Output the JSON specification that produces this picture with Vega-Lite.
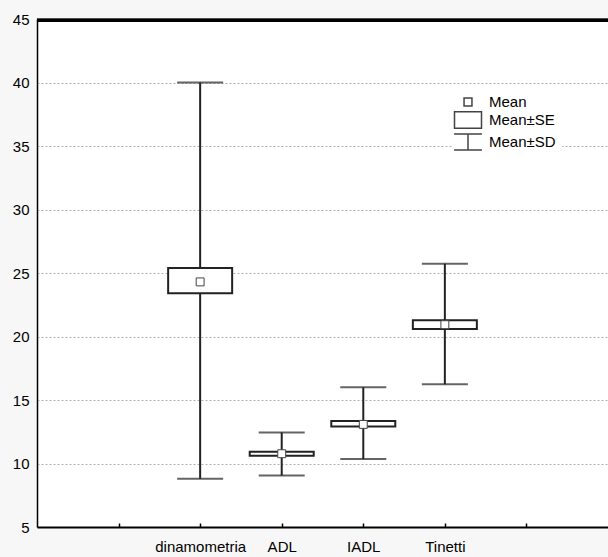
{
  "$schema": "https://vega.github.io/schema/vega-lite/v6.json",
  "autosize": "none",
  "width": 571,
  "height": 508,
  "padding": {"left": 37, "top": 19, "right": 0, "bottom": 30},
  "background": "#f7f7f7",
  "config": {
    "view": {"fill": "white", "stroke": null},
    "font": "Liberation Sans",
    "axis": {"labelFont": "Liberation Sans", "labelFontSize": 15, "labelColor": "black", "domainColor": "black", "tickColor": "black", "title": null}
  },
  "data": {
    "values": [
      {"name": "dinamometria", "mean": 24.3, "se_lo": 23.4, "se_hi": 25.4, "sd_lo": 8.8, "sd_hi": 40.0},
      {"name": "ADL", "mean": 10.77, "se_lo": 10.62, "se_hi": 10.93, "sd_lo": 9.05, "sd_hi": 12.45},
      {"name": "IADL", "mean": 13.08, "se_lo": 12.92, "se_hi": 13.35, "sd_lo": 10.35, "sd_hi": 16.0},
      {"name": "Tinetti", "mean": 20.93, "se_lo": 20.6, "se_hi": 21.28, "sd_lo": 16.24, "sd_hi": 25.73}
    ]
  },
  "layer": [
    {
      "mark": {"type": "rule", "color": "#222", "strokeWidth": 2},
      "encoding": {
        "x": {"field": "name", "type": "nominal",
              "scale": {"type": "point", "domain": ["_a", "dinamometria", "ADL", "IADL", "Tinetti", "_b"], "padding": 1},
              "axis": {"orient": "bottom", "labelExpr": "indexof(datum.value, '_') == 0 ? '' : datum.value", "labelAngle": 0, "tickSize": -4, "tickWidth": 1.5, "labelPadding": 16, "domainWidth": 2, "grid": false}},
        "y": {"field": "sd_lo", "type": "quantitative",
              "scale": {"domain": [5, 45], "nice": false, "zero": false},
              "axis": {"values": [5, 10, 15, 20, 25, 30, 35, 40, 45], "ticks": false, "labelPadding": 8, "domainWidth": 1.5, "grid": true, "gridColor": "#b0b0b0", "gridDash": [2, 2], "gridWidth": 1}},
        "y2": {"field": "sd_hi"}
      }
    },
    {
      "mark": {"type": "tick", "color": "#222", "size": 46, "thickness": 2},
      "encoding": {
        "x": {"field": "name", "type": "nominal"},
        "y": {"field": "sd_lo", "type": "quantitative"}
      }
    },
    {
      "mark": {"type": "tick", "color": "#222", "size": 46, "thickness": 2},
      "encoding": {
        "x": {"field": "name", "type": "nominal"},
        "y": {"field": "sd_hi", "type": "quantitative"}
      }
    },
    {
      "mark": {"type": "bar", "fill": "white", "stroke": "#222", "strokeWidth": 2, "size": 64},
      "encoding": {
        "x": {"field": "name", "type": "nominal"},
        "y": {"field": "se_lo", "type": "quantitative"},
        "y2": {"field": "se_hi"}
      }
    },
    {
      "mark": {"type": "point", "filled": true, "fill": "white", "stroke": "#444", "strokeWidth": 1, "size": 324, "opacity": 1},
      "encoding": {
        "x": {"field": "name", "type": "nominal"},
        "y": {"field": "mean", "type": "quantitative"},
        "shape": {
          "datum": "Mean",
          "type": "nominal",
          "scale": {
            "domain": ["Mean", "Mean±SE", "Mean±SD"],
            "range": [
              "M-0.44,-0.44H0.44V0.44H-0.44Z",
              "M-1.5,-0.92H1.5V0.92H-1.5Z",
              "M-1.55,-0.9H1.55M0,-0.9V0.9M-1.55,0.9H1.55"
            ]
          },
          "legend": {
            "title": null,
            "orient": "none",
            "legendX": 415,
            "legendY": 67,
            "padding": 6,
            "fillColor": "white",
            "symbolSize": 324,
            "labelOffset": 11,
            "labelFont": "Liberation Sans",
            "labelFontSize": 15,
            "labelColor": "black",
            "rowPadding": -2,
            "encode": {
              "symbols": {
                "update": {
                  "fill": {"value": "white"},
                  "stroke": {"value": "#111"},
                  "strokeWidth": {"value": 1.5},
                  "opacity": {"value": 1},
                  "fillOpacity": {"value": 1},
                  "strokeOpacity": {"value": 1}
                }
              }
            }
          }
        }
      }
    },
    {
      "mark": {"type": "rule", "color": "black", "strokeWidth": 3},
      "encoding": {
        "y": {"datum": 44.9, "type": "quantitative"}
      }
    }
  ]
}
